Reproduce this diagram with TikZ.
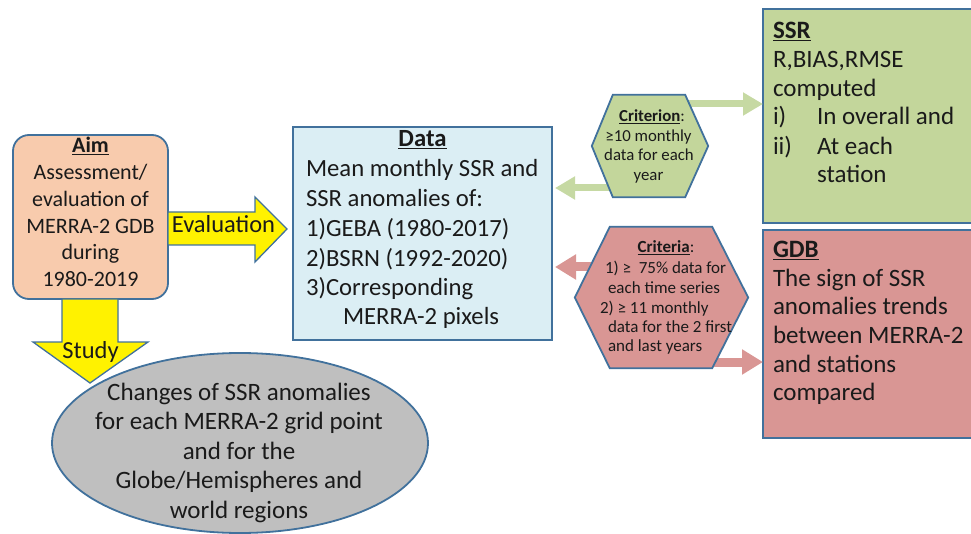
\documentclass[tikz,border=0pt]{standalone}
\usepackage{fontspec}
\setmainfont{Carlito}
\usetikzlibrary{arrows.meta,shapes.geometric}
\definecolor{bord}{HTML}{41719C}
\definecolor{peach}{HTML}{F8CBAD}
\definecolor{ltblue}{HTML}{DBEEF4}
\definecolor{grn}{HTML}{C3D69B}
\definecolor{grnarr}{HTML}{C6D9A3}
\definecolor{rd}{HTML}{D99694}
\definecolor{gry}{HTML}{BFBFBF}
\definecolor{txt}{HTML}{1A1A1A}
\begin{document}
\begin{tikzpicture}[x=1pt,y=-1pt,
  box/.style={draw=bord, line width=1.8pt, inner sep=0pt, outer sep=0pt},
  yarrow/.style={draw=bord, line width=1.3pt, fill=yellow, line join=miter},
  hexshape/.style={draw=bord, line width=1.8pt, line join=miter},
  ln/.style={inner sep=0pt, outer sep=0pt, text=txt},
  tA/.style={ln, font=\fontsize{22}{27}\selectfont},
  tB/.style={ln, font=\fontsize{24.7}{29.5}\selectfont},
  tE/.style={ln, font=\fontsize{25}{29.5}\selectfont},
  tC/.style={ln, font=\fontsize{25}{29}\selectfont},
  tY/.style={ln, font=\fontsize{24.5}{29}\selectfont},
  tG/.style={ln, font=\fontsize{16.8}{19.5}\selectfont},
  tR/.style={ln, font=\fontsize{17}{19.5}\selectfont},
  garrowline/.style={draw=grnarr, line width=7pt, -{Triangle[length=20pt,width=22pt]}},
  rarrowline/.style={draw=rd, line width=9pt, -{Triangle[length=21pt,width=24pt]}}
]
\useasboundingbox (0,0) rectangle (971,534);

% ---------- boxes ----------
\node[box, fill=peach, rounded corners=16pt, minimum width=155pt, minimum height=164pt, anchor=north west] (aim) at (13,135) {};
\node[box, fill=ltblue, minimum width=259pt, minimum height=213pt, anchor=north west] (data) at (293,127) {};
\node[box, fill=grn, minimum width=222pt, minimum height=214pt, anchor=north west] (ssr) at (763,9) {};
\node[box, fill=rd, minimum width=222pt, minimum height=208pt, anchor=north west] (gdb) at (763,230) {};
\node[box, fill=gry, ellipse, minimum width=376pt, minimum height=180pt] (chg) at (240,443) {};

% ---------- thin arrows (behind hexagons) ----------
\coordinate (g1s) at (688,104);
\coordinate (g2s) at (615,188);
\coordinate (r1s) at (600,267);
\coordinate (r2s) at (708,362);
\draw[garrowline] (g1s) -- (g1s -| ssr.west);
\draw[garrowline] (g2s) -- ([xshift=3pt]g2s -| data.east);
\draw[rarrowline] (r1s) -- ([xshift=3pt]r1s -| data.east);
\draw[rarrowline] (r2s) -- (r2s -| gdb.west);

% ---------- hexagons ----------
\node[inner sep=0pt, minimum width=116pt, minimum height=102pt] (crit) at (650,146) {};
\draw[hexshape, fill=grn] (crit.west) -- ([xshift=21pt]crit.north west) -- ([xshift=-23pt]crit.north east)
  -- (crit.east) -- ([xshift=-23pt]crit.south east) -- ([xshift=21pt]crit.south west) -- cycle;
\node[inner sep=0pt, minimum width=173pt, minimum height=141pt] (crits) at (661.5,297.5) {};
\draw[hexshape, fill=rd] (crits.west) -- ([xshift=35pt]crits.north west) -- ([xshift=-36pt]crits.north east)
  -- (crits.east) -- ([xshift=-36pt]crits.south east) -- ([xshift=35pt]crits.south west) -- cycle;

% ---------- block arrows ----------
\coordinate (evA) at (aim.east |- 0,212);
\draw[yarrow] (evA) -- ++(87,0) -- ++(0,-15) -- ++(32,32) -- ++(-32,33) -- ++(0,-17) -- ++(-87,0) -- cycle;
\coordinate (stA) at (62,0 |- aim.south);
\draw[yarrow] (stA) -- ++(0,43) -- ++(-29,0) -- ++(57,41) -- ++(58,-41) -- ++(-30,0) -- ++(0,-43) -- cycle;

% ---------- texts: Aim ----------
\node[tA, anchor=base] (a1) at (90.5,153) {\underline{\textbf{Aim}}};
\node[tA, anchor=base] (a2) at (90.5,180) {Assessment/};
\node[tA, anchor=base] (a3) at (90.5,207) {evaluation of};
\node[tA, anchor=base] (a4) at (90.5,233.5) {MERRA-2 GDB};
\node[tA, anchor=base] (a5) at (90.5,260) {during};
\node[tA, anchor=base] (a6) at (90.5,287) {1980-2019};
\node[tY, anchor=base] (ev) at (223.5,233) {Evaluation};
\node[tY, anchor=base] (st) at (90.5,358) {Study};

% ---------- texts: Data ----------
\node[tB, anchor=base] (d0) at (422.5,147) {\underline{\textbf{Data}}};
\node[tB, anchor=base west] (d1) at (306,177) {Mean monthly SSR and};
\node[tB, anchor=base west] (d2) at (306,207) {SSR anomalies of:};
\node[tB, anchor=base west] (d3) at (306,237) {1)GEBA (1980-2017)};
\node[tB, anchor=base west] (d4) at (306,266.5) {2)BSRN (1992-2020)};
\node[tB, anchor=base west] (d5) at (306,296) {3)Corresponding};
\node[tB, anchor=base west] (d6) at (343,325) {MERRA-2 pixels};

% ---------- texts: ellipse ----------
\node[tE, anchor=base] (c1) at (239,400) {Changes of SSR anomalies};
\node[tE, anchor=base] (c2) at (239,429.5) {for each MERRA-2 grid point};
\node[tE, anchor=base] (c3) at (239,459) {and for the};
\node[tE, anchor=base] (c4) at (239,488.5) {Globe/Hemispheres and};
\node[tE, anchor=base] (c5) at (239,518) {world regions};

% ---------- texts: SSR ----------
\node[tC, anchor=base west] (s1) at (773,39) {\underline{\textbf{SSR}}};
\node[tC, anchor=base west] (s2) at (773,68) {R,BIAS,RMSE};
\node[tC, anchor=base west] (s3) at (773,97) {computed};
\node[tC, anchor=base west] (s4) at (773,125) {i)};
\node[tC, anchor=base west] (s5) at (817,125) {In overall and};
\node[tC, anchor=base west] (s6) at (773,155) {ii)};
\node[tC, anchor=base west] (s7) at (817,155) {At each};
\node[tC, anchor=base west] (s8) at (817,183) {station};

% ---------- texts: GDB ----------
\node[tC, anchor=base west] (b1) at (773,258) {\underline{\textbf{GDB}}};
\node[tC, anchor=base west] (b2) at (773,287) {The sign of SSR};
\node[tC, anchor=base west] (b3) at (773,315) {anomalies trends};
\node[tC, anchor=base west] (b4) at (773,343.5) {between MERRA-2};
\node[tC, anchor=base west] (b5) at (773,372) {and stations};
\node[tC, anchor=base west] (b6) at (773,400) {compared};

% ---------- texts: green hexagon ----------
\node[tG, anchor=base] (h1) at (652,122) {\underline{\textbf{Criterion}}:};
\node[tG, anchor=base] (h2) at (648.5,141.5) {≥10 monthly};
\node[tG, anchor=base] (h3) at (649,161) {data for each};
\node[tG, anchor=base] (h4) at (648.5,180.5) {year};

% ---------- texts: red hexagon ----------
\node[tR, anchor=base] (k0) at (666,253) {\underline{\textbf{Criteria}}:};
\node[tR, anchor=base west] (k1) at (605,274) {1) ≥\ \ 75\% data for};
\node[tR, anchor=base west] (k2) at (608,293.5) {each time series};
\node[tR, anchor=base west] (k3) at (600,313) {2) ≥ 11 monthly};
\node[tR, anchor=base west] (k4) at (608,332.5) {data for the 2 first};
\node[tR, anchor=base west] (k5) at (608,352) {and last years};
\end{tikzpicture}
\end{document}
